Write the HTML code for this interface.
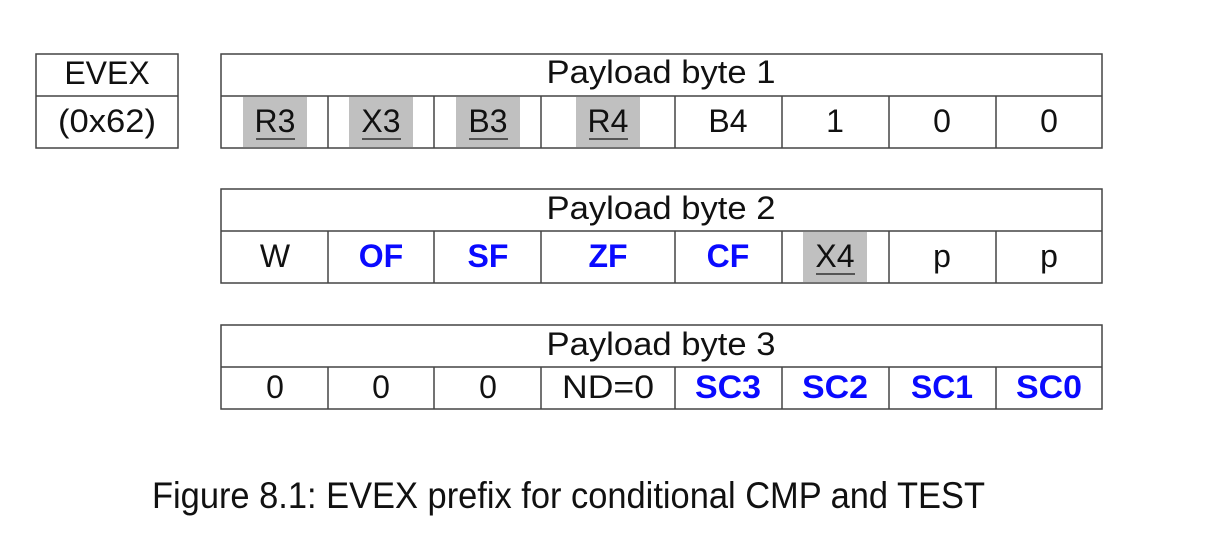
<!DOCTYPE html>
<html><head><meta charset="utf-8"><style>
html,body{margin:0;padding:0;background:#fff;}
svg{display:block;}
text{font-family:"Liberation Sans",sans-serif;}
</style></head><body>
<svg width="1224" height="547" viewBox="0 0 1224 547" xmlns="http://www.w3.org/2000/svg">
<g fill="none" stroke="#444" stroke-width="1.5">
<rect x="36" y="54" width="142" height="94"/>
<line x1="36" y1="96" x2="178" y2="96"/>
<rect x="221" y="54" width="881" height="94"/>
<line x1="221" y1="96" x2="1102" y2="96"/>
<rect x="221" y="189" width="881" height="94"/>
<line x1="221" y1="231" x2="1102" y2="231"/>
<rect x="221" y="325" width="881" height="84"/>
<line x1="221" y1="367" x2="1102" y2="367"/>
</g>
<g fill="#c0c0c0">
<rect x="243" y="97" width="64" height="50"/>
<rect x="349" y="97" width="64" height="50"/>
<rect x="456" y="97" width="64" height="50"/>
<rect x="576" y="97" width="64" height="50"/>
<rect x="803" y="232" width="64" height="50"/>
</g>
<g stroke="#444" stroke-width="1.5">
<line x1="328" y1="96" x2="328" y2="148"/><line x1="434" y1="96" x2="434" y2="148"/><line x1="541" y1="96" x2="541" y2="148"/>
<line x1="675" y1="96" x2="675" y2="148"/><line x1="782" y1="96" x2="782" y2="148"/><line x1="889" y1="96" x2="889" y2="148"/><line x1="996" y1="96" x2="996" y2="148"/>
<line x1="328" y1="231" x2="328" y2="283"/><line x1="434" y1="231" x2="434" y2="283"/><line x1="541" y1="231" x2="541" y2="283"/>
<line x1="675" y1="231" x2="675" y2="283"/><line x1="782" y1="231" x2="782" y2="283"/><line x1="889" y1="231" x2="889" y2="283"/><line x1="996" y1="231" x2="996" y2="283"/>
<line x1="328" y1="367" x2="328" y2="409"/><line x1="434" y1="367" x2="434" y2="409"/><line x1="541" y1="367" x2="541" y2="409"/>
<line x1="675" y1="367" x2="675" y2="409"/><line x1="782" y1="367" x2="782" y2="409"/><line x1="889" y1="367" x2="889" y2="409"/><line x1="996" y1="367" x2="996" y2="409"/>
</g>
<g stroke="#555" stroke-width="2">
<line x1="256" y1="139" x2="295" y2="139"/>
<line x1="362" y1="139" x2="401" y2="139"/>
<line x1="469" y1="139" x2="508" y2="139"/>
<line x1="589" y1="139" x2="628" y2="139"/>
<line x1="816" y1="274" x2="855" y2="274"/>
</g>
<g font-size="32" fill="#111" text-anchor="middle">
<text x="107" y="84">EVEX</text>
<text x="107" y="132" textLength="98" lengthAdjust="spacingAndGlyphs">(0x62)</text>
<text x="661" y="83" textLength="229" lengthAdjust="spacingAndGlyphs">Payload byte 1</text>
<text x="661" y="219" textLength="229" lengthAdjust="spacingAndGlyphs">Payload byte 2</text>
<text x="661" y="355" textLength="229" lengthAdjust="spacingAndGlyphs">Payload byte 3</text>
<text x="275" y="132">R3</text><text x="381" y="132">X3</text><text x="488" y="132">B3</text><text x="608" y="132">R4</text>
<text x="728" y="132">B4</text><text x="835" y="132">1</text><text x="942" y="132">0</text><text x="1049" y="132">0</text>
<text x="275" y="267">W</text><text x="835" y="267">X4</text><text x="942" y="267">p</text><text x="1049" y="267">p</text>
<text x="275" y="398">0</text><text x="381" y="398">0</text><text x="488" y="398">0</text>
<text x="608" y="398" textLength="92" lengthAdjust="spacingAndGlyphs">ND=0</text>
</g>
<g font-size="32" font-weight="bold" fill="#0a0aff" text-anchor="middle">
<text x="381" y="267">OF</text><text x="488" y="267">SF</text><text x="608" y="267">ZF</text><text x="728" y="267">CF</text>
<text x="728" y="398" textLength="66" lengthAdjust="spacingAndGlyphs">SC3</text>
<text x="835" y="398" textLength="66" lengthAdjust="spacingAndGlyphs">SC2</text>
<text x="942" y="398" textLength="62" lengthAdjust="spacingAndGlyphs">SC1</text>
<text x="1049" y="398" textLength="66" lengthAdjust="spacingAndGlyphs">SC0</text>
</g>
<text x="152" y="508" font-size="37" fill="#111" textLength="833" lengthAdjust="spacingAndGlyphs">Figure 8.1: EVEX prefix for conditional CMP and TEST</text>
</svg>
</body></html>
